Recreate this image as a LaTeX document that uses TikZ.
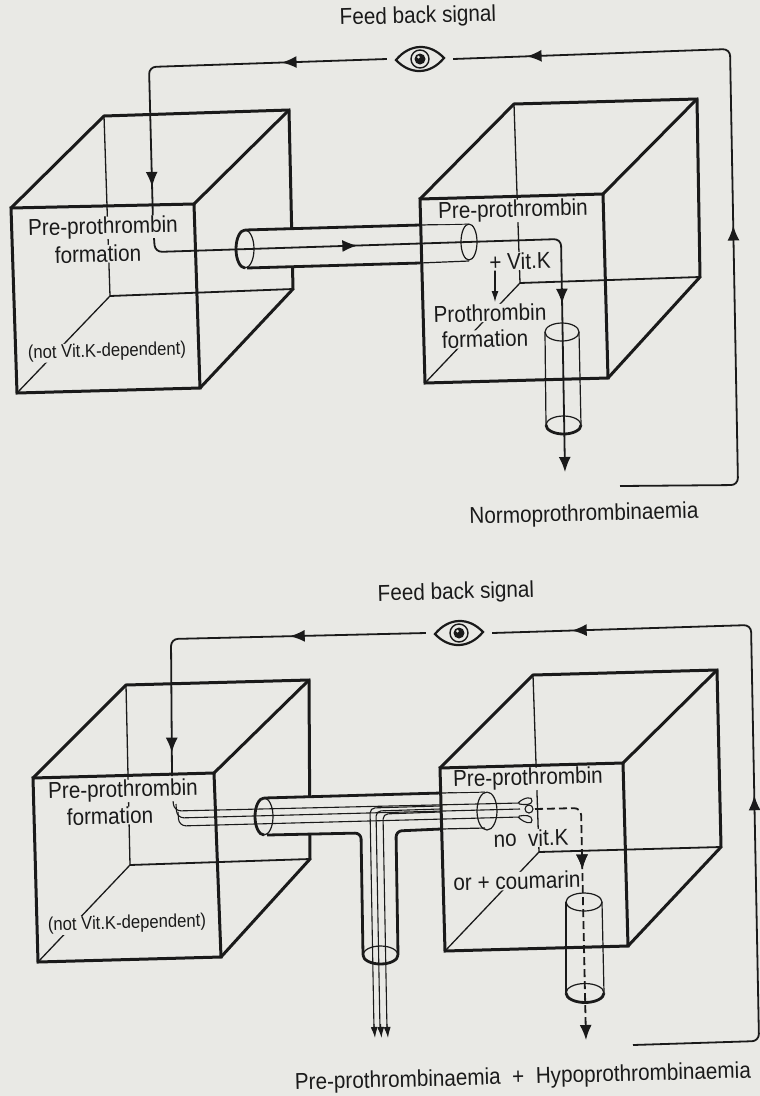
\documentclass[tikz,border=0pt]{standalone}
\usepackage{fontspec}
\setmainfont[FakeStretch=0.9]{Liberation Sans}
\usetikzlibrary{arrows.meta,calc,positioning,decorations.markings}
\definecolor{paper}{HTML}{E9E9E5}
\definecolor{inkdark}{HTML}{1A1A1A}
\tikzset{
  lab/.style={text=inkdark,fill=paper,inner sep=0.5pt,rotate=1.5,font=\fontsize{23}{25}\selectfont},
  labsmall/.style={lab,font=\fontsize{18.5}{20}\selectfont},
  edgefront/.style={draw=inkdark,line width=3pt,line join=miter},
  edgeback/.style={draw=inkdark,line width=1.3pt},
  tube/.style={draw=inkdark,line width=1.2pt},
  tubethick/.style={draw=inkdark,line width=2.8pt},
  flow/.style={draw=inkdark,line width=1.8pt,rounded corners=7pt},
  flowthin/.style={draw=inkdark,line width=1.1pt,rounded corners=7pt},
  midtips/.style 2 args={postaction={decorate},decoration={markings,
    mark=at position #1 with {\arrow{Latex[length=15pt,width=12pt]}},
    mark=at position #2 with {\arrow{Latex[length=15pt,width=12pt]}}}},
  endtip/.style={-{Latex[length=15pt,width=12pt]}},
  tipsmall/.style={-{Latex[length=11pt,width=7pt]},draw=inkdark,line width=1.1pt},
  dashflow/.style={flow,dash pattern=on 8pt off 4pt},
  eyebox/.style={minimum width=66pt,minimum height=24pt,inner sep=0pt,fill=paper},
}
\newcommand{\eyemark}[1]{
  \draw[inkdark,line width=2.2pt,fill=paper] ($(#1)+(-24,1)$) .. controls ($(#1)+(-10,-16)$) and ($(#1)+(10,-16)$) .. ($(#1)+(24,-1)$) .. controls ($(#1)+(10,16)$) and ($(#1)+(-10,16)$) .. cycle;
  \draw[inkdark,line width=1.4pt] (#1) circle (9pt);
  \fill[inkdark] (#1) circle (5.5pt);
  \fill[paper] ($(#1)+(-1.5,-2)$) circle (1.5pt);
}
\begin{document}
\begin{tikzpicture}[x=1pt,y=-1pt,>=Latex]
  \useasboundingbox (0,0) rectangle (760,1096);
  \fill[paper] (0,0) rectangle (760,1096);

  % upper panel, left cube
  \draw[edgeback] (104,116) -- (110,296) -- (17,393);
  \draw[edgeback,line width=1.8pt] (110,296) -- (293,289);
  \draw[edgefront] (11,208) -- (104,116) -- (289,110) -- (293,289) -- (200,388);
  \draw[edgefront] (194,204) -- (289,110);
  \draw[edgefront] (11,208) -- (194,204) -- (200,388) -- (17,393) -- cycle;

  % upper panel, horizontal tube
  \fill[paper] (245,230) -- (473,224) -- (473,261) -- (247,268) arc[start angle=270,end angle=90,x radius=9pt,y radius=19pt] -- cycle;
  \draw[tubethick] (245,230) -- (420,225);
  \draw[tubethick] (247,268) -- (420,263);
  \draw[tube] (420,225) -- (469,224);
  \draw[tube] (420,263) -- (469,261);
  \draw[tube] (245,249) ellipse[x radius=9pt,y radius=19pt];
  \draw[tubethick] (245,230) arc[start angle=90,end angle=270,x radius=9pt,y radius=19pt];

  % upper panel, right cube
  \draw[edgeback] (514,104) -- (520,283) -- (425,383);
  \draw[edgeback,line width=1.8pt] (520,283) -- (700,277);
  \draw[edgefront] (420,199) -- (514,104) -- (697,99) -- (700,277) -- (608,378);
  \draw[edgefront] (603,194) -- (697,99);
  \draw[edgefront] (420,199) -- (603,194) -- (608,378) -- (425,383) -- cycle;
  \draw[tube] (469,242) ellipse[x radius=8pt,y radius=18pt];

  % upper panel, vertical tube
  \draw[tube] (562,332) ellipse[x radius=17pt,y radius=9pt];
  \draw[tube] (545,332) -- (546,425);
  \draw[tube] (579,332) -- (581,425);
  \draw[tubethick] (546,425) arc[start angle=180,end angle=360,x radius=17.5pt,y radius=9pt];
  \draw[tube] (546,425) arc[start angle=180,end angle=0,x radius=17.5pt,y radius=9pt];

  % upper panel, flow
  \node[eyebox] (eyeup) at (420,59) {};
  \eyemark{eyeup}
  \draw[flow,midtips={0.27}{0.91}] (eyeup.west) -- (149,67) -- (153,222);
  \draw[flow,midtips={0.454}{0.911}] (620,486) -- (738,485) -- (730,49) -- (eyeup.east);
  \draw[flow,endtip,midtips={0.33}{0.74}] (154,238) -- (155,252) -- (561,239) -- (565,472);
  \draw[tipsmall] (495,270) -- (495,302);

  \node[lab] (feedup) at (418,17) {Feed back signal};
  \node[lab] (preleft) at (103,228) {Pre-prothrombin};
  \node[lab] (formleft) at (98,254) {formation};
  \node[labsmall] (notleft) at (107,352) {(not Vit.K-dependent)};
  \node[lab] (preright) at (513,211) {Pre-prothrombin};
  \node[lab] (vitk) at (520,261) {+ Vit.K};
  \node[lab] (proright) at (490,313) {Prothrombin};
  \node[lab] (formright) at (485,339) {formation};
  \node[lab,fill=none] (normo) at (584,515) {Normoprothrombinaemia};

  % lower panel, left cube
  \draw[edgeback] (126,685) -- (130,865) -- (38,962);
  \draw[edgeback,line width=1.8pt] (130,865) -- (310,859);
  \draw[edgefront] (33,778) -- (126,685) -- (309,680) -- (310,859) -- (221,957);
  \draw[edgefront] (214,773) -- (309,680);
  \draw[edgefront] (33,778) -- (214,773) -- (221,957) -- (38,962) -- cycle;

  % lower panel, T tube
  \fill[paper] (264,798) -- (485,792) -- (485,828) -- (405,831) -- (397,838) -- (398,955) -- (363,955) -- (362,840) -- (351,833) -- (267,835) arc[start angle=270,end angle=90,x radius=9pt,y radius=18.5pt] -- cycle;
  \draw[tubethick] (264,798) -- (441,793);
  \draw[tube] (441,793) -- (485,792);
  \draw[tubethick,rounded corners=6pt] (267,835) -- (361,833) -- (363,955);
  \draw[tubethick,rounded corners=6pt] (441,829) -- (396,831) -- (398,955);
  \draw[tube] (441,829) -- (485,828);
  \draw[tube] (264,816.5) ellipse[x radius=9pt,y radius=18.5pt];
  \draw[tubethick] (264,798) arc[start angle=90,end angle=270,x radius=9pt,y radius=18.5pt];
  \draw[tube] (380.5,955) ellipse[x radius=17.5pt,y radius=9pt];
  \draw[tubethick] (363,955) arc[start angle=180,end angle=360,x radius=17.5pt,y radius=9pt];

  % lower panel, right cube
  \draw[edgeback] (533,675) -- (539,852) -- (445,951);
  \draw[edgeback,line width=1.8pt] (539,852) -- (721,847);
  \draw[edgefront] (440,768) -- (533,675) -- (717,670) -- (721,847) -- (628,946);
  \draw[edgefront] (623,763) -- (717,670);
  \draw[edgefront] (440,768) -- (623,763) -- (628,946) -- (445,951) -- cycle;
  \draw[tube] (487,811) ellipse[x radius=10pt,y radius=19pt];

  % lower panel, vertical tube
  \draw[tube] (584,902) ellipse[x radius=18pt,y radius=9pt];
  \draw[tube] (566,902) -- (566,993);
  \draw[tube] (602,902) -- (604,993);
  \draw[tubethick] (566,993) arc[start angle=180,end angle=360,x radius=19pt,y radius=9.5pt];
  \draw[tube] (566,993) arc[start angle=180,end angle=0,x radius=19pt,y radius=9.5pt];

  % lower panel, feedback
  \node[eyebox] (eyelow) at (459,633) {};
  \eyemark{eyelow}
  \draw[flow,midtips={0.35}{0.94}] (eyelow.west) -- (171,639) -- (172,776);
  \draw[flow,midtips={0.464}{0.90}] (633,1045) -- (759,1041) -- (751,625) -- (eyelow.east);

  % lower panel, the three lines
  \draw[flowthin] (173,800) -- (174,811) -- (520,803);
  \draw[flowthin] (176,804) -- (177,818) -- (520,809);
  \draw[flowthin] (178,812) -- (179,826) -- (520,817);
  \draw[flowthin,rounded corners=5pt] (440,806) -- (370,808) -- (374,1030);
  \draw[flowthin,rounded corners=5pt] (440,809) -- (376,811) -- (380,1030);
  \draw[flowthin,rounded corners=5pt] (440,812) -- (383,814) -- (387,1030);
  \draw[tipsmall] (374,1024) -- (375,1038);
  \draw[tipsmall] (380.5,1024) -- (381.5,1038);
  \draw[tipsmall] (387,1024) -- (388,1038);
  \draw[inkdark,line width=1.1pt] (518,803) .. controls (524,797) and (533,796) .. (532,801) .. controls (532,805) and (525,805) .. (519,804);
  \draw[inkdark,line width=1.1pt] (518,817) .. controls (524,823) and (533,825) .. (532,820) .. controls (532,815) and (525,815) .. (519,816);
  \draw[inkdark,line width=1.1pt] (529,809) circle (4pt);
  \draw[dashflow,endtip,midtips={0.38}{0.38}] (535,809) -- (581,808) -- (586,1040);

  \node[lab] (feedlow) at (456,593) {Feed back signal};
  \node[lab] (prelow) at (123,791) {Pre-prothrombin};
  \node[lab] (formlow) at (110,816) {formation};
  \node[labsmall] (notlow) at (127,924) {(not Vit.K-dependent)};
  \node[lab] (prelowr) at (528,779) {Pre-prothrombin};
  \node[lab] (novit) at (531,838) {no\ \ vit.K};
  \node[lab] (coum) at (517,881) {or + coumarin};
  \node[lab,fill=none] (bottomtext) at (523,1078) {Pre-prothrombinaemia\ \ +\ \ Hypoprothrombinaemia};
\end{tikzpicture}
\end{document}
